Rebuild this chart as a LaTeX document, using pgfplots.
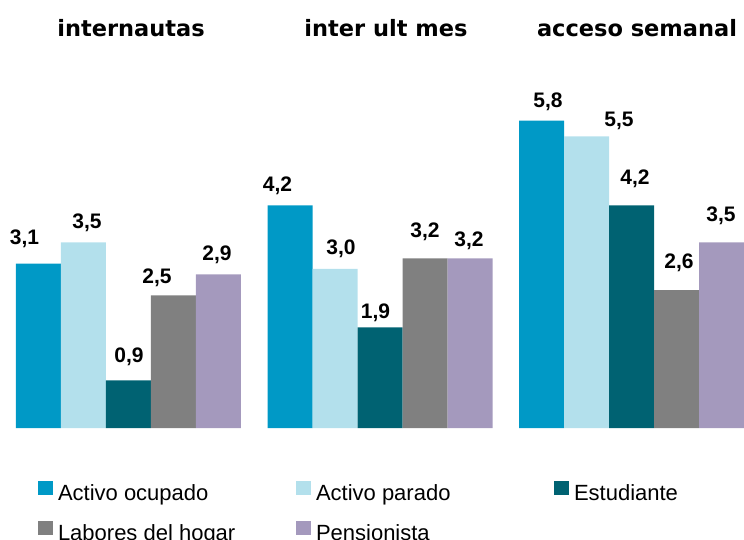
\documentclass[border=0pt]{standalone}
\usepackage{pgfplots}
\pgfplotsset{compat=1.18}
\usepackage{pgfplotstable}
\usepackage{fontspec}
\setmainfont{Liberation Sans}
\newfontfamily\titlefamily{DejaVu Sans}
\definecolor{cA}{RGB}{0,153,198}
\definecolor{cB}{RGB}{179,224,236}
\definecolor{cC}{RGB}{0,98,114}
\definecolor{cD}{RGB}{128,128,128}
\definecolor{cE}{RGB}{164,153,189}

\pgfplotstableread{
x y dx dy
0 3.1 -14 25
1 4.2 -12.5 20
2 5.8 6.5 19
}\tA
\pgfplotstableread{
x y dx dy
0 3.5 3.5 20
1 3.0 6 20
2 5.5 32.5 16
}\tB
\pgfplotstableread{
x y dx dy
0 0.9 0.5 24
1 1.9 -4.5 15
2 4.2 3.5 27
}\tC
\pgfplotstableread{
x y dx dy
0 2.5 -16.5 18
1 3.2 0 27
2 2.6 2.5 27
}\tD
\pgfplotstableread{
x y dx dy
0 2.9 -1.5 20
1 3.2 -1 18
2 3.5 -0.5 27
}\tE

\begin{document}
\begin{tikzpicture}
\begin{axis}[
  scale only axis, width=744pt, height=428pt,
  xmin=-0.5109, xmax=2.4473, ymin=0, ymax=8.075,
  hide axis, clip=false,
  ybar=0pt, bar width=45pt,
  /pgf/number format/fixed,
  /pgf/number format/fixed zerofill,
  /pgf/number format/precision=1,
  /pgf/number format/use comma,
  /pgf/number format/assume math mode=true,
  lbl/.style={
    nodes near coords,
    visualization depends on={\thisrow{dx}\as\dx},
    visualization depends on={\thisrow{dy}\as\dy},
    every node near coord/.append style={font=\fontsize{21}{24}\selectfont\bfseries, anchor=center, xshift=\dx pt, yshift=\dy pt, text=black},
  },
  legend image code/.code={\fill[#1] (0pt,-2pt) rectangle (15pt,12pt);},
  legend columns=3,
  legend style={
    at={(axis description cs:0.05108,-0.1245)}, anchor=north west,
    draw=none, fill=none, inner sep=0pt, outer sep=0pt,
    font=\fontsize{22}{25}\selectfont,
    row sep=19pt,
    /tikz/every odd column/.append style={column sep=5pt},
    /tikz/every even column/.append style={column sep=0pt},
    nodes={inner sep=0pt, outer sep=0pt},
  },
  legend cell align=left,
]
\addplot[fill=cA, draw=none, lbl] table[x=x,y=y]{\tA};
\addlegendentry{\makebox[238pt][l]{Activo ocupado}}
\addplot[fill=cB, draw=none, lbl] table[x=x,y=y]{\tB};
\addlegendentry{\makebox[238pt][l]{Activo parado}}
\addplot[fill=cC, draw=none, lbl] table[x=x,y=y]{\tC};
\addlegendentry{Estudiante}
\addplot[fill=cD, draw=none, lbl] table[x=x,y=y]{\tD};
\addlegendentry{\makebox[238pt][l]{Labores del hogar}}
\addplot[fill=cE, draw=none, lbl] table[x=x,y=y]{\tE};
\addlegendentry{Pensionista}

\node[font=\titlefamily\fontsize{22.5}{27}\selectfont\bfseries, anchor=base] at (axis cs:0.01,7.377) {internautas};
\node[font=\titlefamily\fontsize{22.5}{27}\selectfont\bfseries, anchor=base] at (axis cs:1.024,7.377) {inter ult mes};
\node[font=\titlefamily\fontsize{22.5}{27}\selectfont\bfseries, anchor=base] at (axis cs:2.022,7.377) {acceso semanal};
\end{axis}
\pgfresetboundingbox
\path[use as bounding box] (0,-111pt) rectangle (744pt,428pt);
\end{tikzpicture}
\end{document}
